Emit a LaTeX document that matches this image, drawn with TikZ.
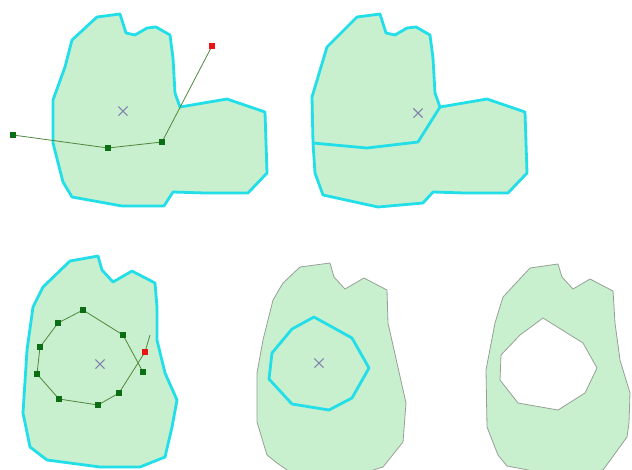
\documentclass[tikz,border=0pt]{standalone}
\usetikzlibrary{shapes.misc}
\definecolor{fillg}{RGB}{200,240,206}
\definecolor{cyanl}{RGB}{34,222,232}
\definecolor{edgeg}{RGB}{150,160,150}
\definecolor{vg}{RGB}{12,110,20}
\definecolor{lineg}{RGB}{80,135,60}
\definecolor{crossc}{RGB}{130,130,175}
\definecolor{redv}{RGB}{235,20,20}
\tikzset{
  poly/.style={fill=fillg, draw=cyanl, line width=2.1pt, line join=round},
  plainpoly/.style={fill=fillg, draw=edgeg, line width=0.6pt, line join=round},
  vtx/.style={fill=vg, draw=none, inner sep=0pt, minimum size=4.5pt},
  redvtx/.style={fill=redv, draw=none, inner sep=0pt, minimum size=4.5pt},
  sketch/.style={draw=lineg, line width=0.6pt},
  ctr/.style={cross out, draw=crossc, line width=0.8pt, inner sep=0pt, minimum size=6pt},
}
\begin{document}
\begin{tikzpicture}[x=0.75pt,y=-0.75pt]
\useasboundingbox (0,0) rectangle (632,469);
\clip (0,0) rectangle (632,469);
% ---------- panel 1
\draw[poly] (97,17) -- (120,14) -- (126,33) -- (135,35) -- (147,28) -- (156,27) -- (170,35)
  -- (173,58) -- (175,93) -- (180,107) -- (227,99) -- (265,112) -- (267,173) -- (248,193)
  -- (205,193) -- (173,192) -- (164,206) -- (122,206) -- (72,197) -- (63,182) -- (53,143)
  -- (53,100) -- (65,67) -- (72,40) -- cycle;
\node[ctr] (c1) at (123,111) {};
\node[vtx] (a1) at (13,135) {};
\node[vtx] (a2) at (108,148) {};
\node[vtx] (a3) at (162,142) {};
\node[redvtx] (a4) at (212,46) {};
\draw[sketch] (a1.center) -- (a2.center) -- (a3.center) -- (a4.center);
\node[vtx] at (a1) {};
\node[vtx] at (a2) {};
\node[vtx] at (a3) {};
\node[redvtx] at (a4) {};
% ---------- panel 2
\begin{scope}[xshift=195pt]
\draw[poly] (97,17) -- (120,14) -- (126,33) -- (135,35) -- (147,28) -- (156,27) -- (170,35)
  -- (173,58) -- (175,93) -- (180,107) -- (227,99) -- (265,112) -- (267,173) -- (248,193)
  -- (205,193) -- (173,192) -- (163,203) -- (118,207) -- (63,195) -- (55,173) -- (53,143)
  -- (52,97) -- (67,47) -- cycle;
\draw[poly, fill=none] (53,143) -- (107,148) -- (158,142) -- (180,107);
\node[ctr] (c2) at (158,113) {};
\end{scope}
% ---------- panel 3
\draw[poly] (70,261) -- (98,256) -- (102,270) -- (113,282) -- (132,271) -- (155,283)
  -- (157,307) -- (157,340) -- (165,373) -- (177,400) -- (172,427) -- (165,457)
  -- (140,467) -- (100,467) -- (47,460) -- (30,447) -- (23,413) -- (27,350)
  -- (33,307) -- (43,287) -- cycle;
\node[ctr] (c3) at (100,364) {};
\node[vtx] (b1) at (83,310) {};
\node[vtx] (b2) at (123,335) {};
\node[vtx] (b3) at (143,372) {};
\node[vtx] (b4) at (119,393) {};
\node[vtx] (b5) at (98,405) {};
\node[vtx] (b6) at (59,399) {};
\node[vtx] (b7) at (37,374) {};
\node[vtx] (b8) at (40,347) {};
\node[vtx] (b9) at (58,323) {};
\node[redvtx] (b10) at (145,352) {};
\coordinate (bend) at (150,335);
\draw[sketch] (b3.center) -- (b2.center) -- (b1.center) -- (b9.center) -- (b8.center)
  -- (b7.center) -- (b6.center) -- (b5.center) -- (b4.center) -- (b10.center) -- (bend);
\foreach \n in {b1,b2,b3,b4,b5,b6,b7,b8,b9} \node[vtx] at (\n) {};
\node[redvtx] at (b10) {};
% ---------- panel 4
\draw[plainpoly] (300,267) -- (330,263) -- (334,277) -- (345,289) -- (364,278) -- (387,290)
  -- (388,323) -- (397,363) -- (406,403) -- (403,442) -- (383,467) -- (360,474)
  -- (290,472) -- (277,463) -- (267,455) -- (257,422) -- (257,373) -- (263,340)
  -- (273,300) -- (283,283) -- cycle;
\draw[poly] (314,317) -- (352,338) -- (369,368) -- (352,398) -- (329,410) -- (292,404)
  -- (269,379) -- (272,353) -- (292,329) -- cycle;
\node[ctr] (c4) at (319,363) {};
% ---------- panel 5
\draw[plainpoly, even odd rule] (530,268) -- (558,264) -- (562,277) -- (573,289) -- (590,279) -- (613,291)
  -- (615,323) -- (620,360) -- (630,393) -- (629,423) -- (627,437) -- (603,470)
  -- (560,476) -- (507,466) -- (498,455) -- (487,427) -- (486,370) -- (495,323)
  -- (503,297) -- cycle
  (543,318) -- (583,343) -- (597,368) -- (585,393) -- (558,410) -- (518,403)
  -- (500,380) -- (501,355) -- (520,335) -- cycle;
\end{tikzpicture}
\end{document}
